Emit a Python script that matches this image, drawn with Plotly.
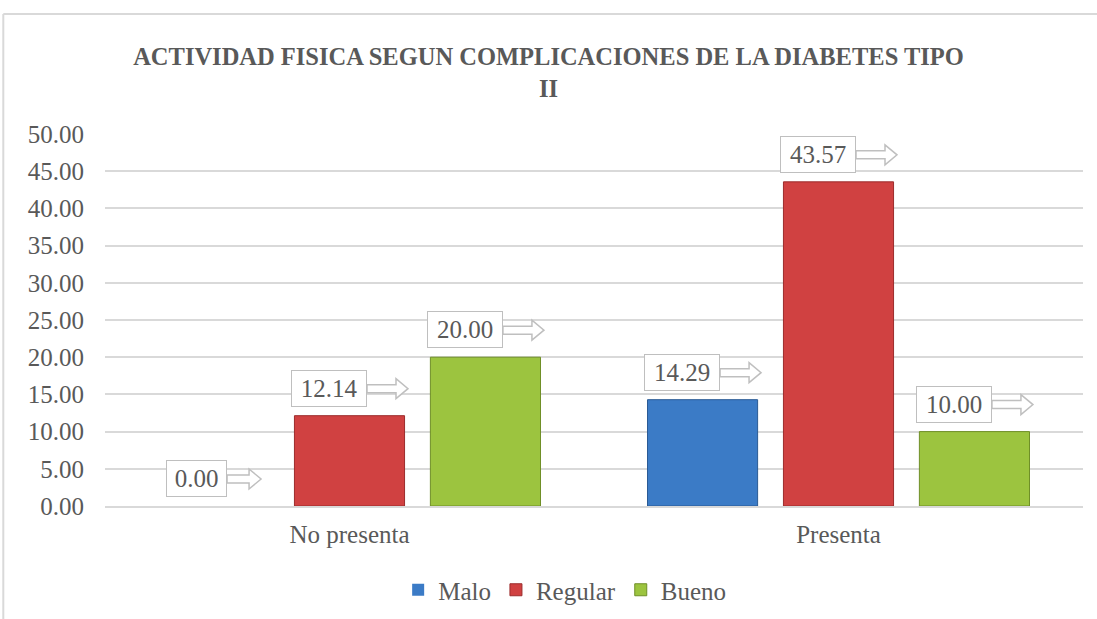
import plotly.graph_objects as go

categories = ["No presenta", "Presenta"]
series_names = ["Malo", "Regular", "Bueno"]
malo = [0.00, 14.29]
regular = [12.14, 43.57]
bueno = [20.00, 10.00]
values = [malo, regular, bueno]
y_ticks = [0, 5, 10, 15, 20, 25, 30, 35, 40, 45, 50]

colors = ["#3b7bc6", "#d04141", "#9cc43f"]
edge = ["#2a5a94", "#9c2c2c", "#6f8f27"]

FONT = "Liberation Serif"
TXT = "#595959"
bargap = 0.166
bargroupgap = 0.19

fig = go.Figure()
for name, vals, c, e in zip(series_names, values, colors, edge):
    fig.add_trace(go.Bar(
        name=name, x=categories, y=vals,
        marker=dict(color=c, line=dict(color=e, width=[0 if v == 0 else 1 for v in vals])),
    ))

slot = (1 - bargap) / len(series_names)
annotations = []
shapes = []
for i, vals in enumerate(values):
    for ci, v in enumerate(vals):
        label = f"{v:.2f}"
        n = len(label)
        w = 15 * n + 1          # box width px
        L = 41 if n >= 5 else 34  # arrow length px
        xc = ci + (i - 1) * slot
        right_off = (w + L) / 2 - L
        annotations.append(dict(
            x=xc, y=v, xref="x", yref="y", text=label, showarrow=False,
            xanchor="right", yanchor="bottom", xshift=right_off, yshift=9,
            width=w - 10, height=27, borderpad=4, borderwidth=1,
            bordercolor="#bfbfbf", bgcolor="white",
            font=dict(family=FONT, size=25, color=TXT),
        ))
        # hollow block arrow to the right of the box
        yc = 9 + 18
        x0 = right_off
        xs = x0 + L - 12
        xt = x0 + L
        path = (f"M {x0},{yc+4} L {xs},{yc+4} L {xs},{yc+10} L {xt},{yc} "
                f"L {xs},{yc-10} L {xs},{yc-4} L {x0},{yc-4} Z")
        shapes.append(dict(
            type="path", xref="x", yref="y", xsizemode="pixel", ysizemode="pixel",
            xanchor=xc, yanchor=v, path=path,
            line=dict(color="#bfbfbf", width=1.5), fillcolor="white",
        ))

# chart area border (top and left)
shapes.append(dict(type="line", xref="paper", yref="paper", x0=-0.104, x1=1.02,
                   y0=1.3226, y1=1.3226, line=dict(color="#d9d9d9", width=2)))
shapes.append(dict(type="line", xref="paper", yref="paper", x0=-0.104, x1=-0.104,
                   y0=1.3226, y1=-0.32, line=dict(color="#d9d9d9", width=2)))

fig.update_layout(
    width=1097, height=619,
    margin=dict(l=105, r=14, t=134, b=113),
    paper_bgcolor="white", plot_bgcolor="white",
    barmode="group", bargap=bargap, bargroupgap=bargroupgap,
    title=dict(
        text="ACTIVIDAD FISICA SEGUN COMPLICACIONES DE LA DIABETES TIPO<br>II",
        x=0.5, xanchor="center", y=1 - 65 / 619, yanchor="top",
        font=dict(family=FONT, size=24.5, color=TXT, weight="bold"),
    ),
    xaxis=dict(
        showline=True, linecolor="#d9d9d9", linewidth=1.5,
        tickfont=dict(family=FONT, size=25, color=TXT),
        ticklabelstandoff=5, showgrid=False, automargin=False,
    ),
    yaxis=dict(
        range=[0, 50], tickvals=y_ticks, tickformat=".2f",
        showgrid=True, gridcolor="#d9d9d9", gridwidth=1.5, zeroline=False,
        tickfont=dict(family=FONT, size=25, color=TXT),
        ticklabelstandoff=20, automargin=False,
    ),
    legend=dict(
        orientation="h", x=0.47, xanchor="center",
        yref="container", y=1 - 590 / 619, yanchor="middle",
        font=dict(family=FONT, size=25, color=TXT),
        itemwidth=30, tracegroupgap=0,
    ),
    annotations=annotations, shapes=shapes,
    showlegend=True,
)

fig.write_html("out.html", config={"displayModeBar": False},
               post_script="document.body.style.margin='0';")
